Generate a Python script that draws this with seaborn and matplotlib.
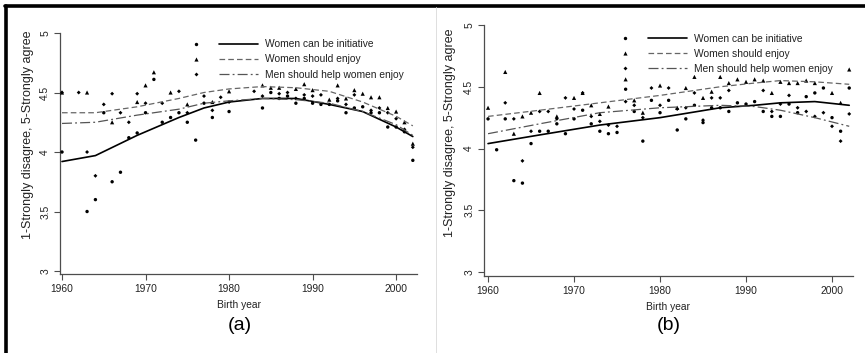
import numpy as np
import matplotlib.pyplot as plt
import seaborn as sns
from matplotlib.lines import Line2D
from matplotlib.legend_handler import HandlerTuple

nan = np.nan
years = list(range(1960, 2003))

# panel (a) scatter: one value per birth year (nan = no marker)
a_initiative = [4.00, nan, nan, 3.50, 3.60, 4.33, 3.75, 3.83, 4.12, 4.16,
                4.33, 4.61, 4.25, 4.29, 4.33, 4.25, 4.10, 4.41, 4.29, nan,
                4.34, nan, nan, nan, 4.37, 4.50, 4.45, 4.47, 4.41, 4.45,
                4.41, 4.40, 4.40, 4.43, 4.33, 4.37, 4.38, 4.33, 4.33, 4.21,
                4.21, 4.17, 3.93]
a_enjoy = [4.50, nan, nan, 4.50, nan, nan, 4.25, nan, nan, 4.42,
           4.56, 4.67, nan, 4.50, 4.63, 4.40, nan, nan, 4.42, nan,
           4.51, nan, nan, nan, 4.56, 4.54, 4.54, nan, 4.53, 4.57,
           4.52, nan, 4.44, 4.56, 4.45, 4.52, 4.49, 4.46, 4.46, 4.37,
           4.34, 4.25, 4.07]
a_help = [4.50, nan, 4.50, 4.00, 3.80, 4.40, 4.49, 4.33, 4.25, 4.49,
          4.41, nan, 4.41, nan, 4.51, 4.33, nan, 4.47, 4.35, 4.46,
          4.42, nan, nan, 4.51, 4.47, nan, 4.49, 4.50, 4.45, 4.48,
          4.47, 4.48, nan, 4.45, 4.40, 4.48, nan, 4.35, 4.37, 4.33,
          4.28, 4.19, 4.04]

# panel (b) scatter
b_initiative = [4.24, 3.99, 4.24, 3.74, 3.72, 4.04, 4.14, 4.14, 4.20, 4.12,
                4.24, 4.31, 4.20, 4.14, 4.12, 4.13, 4.48, 4.30, 4.06, 4.39,
                4.29, 4.39, 4.15, 4.24, 4.35, 4.21, 4.33, 4.33, 4.30, 4.37,
                4.36, 4.38, 4.30, 4.26, 4.26, 4.36, 4.29, 4.42, 4.45, 4.49,
                4.25, 4.14, 4.49]
b_enjoy = [4.33, nan, 4.62, 4.12, 4.26, 4.29, 4.45, nan, 4.26, nan,
           4.41, 4.45, 4.35, 4.28, 4.34, nan, 4.56, 4.39, 4.29, nan,
           4.51, nan, 4.33, 4.49, 4.58, 4.41, 4.46, 4.58, 4.53, 4.56,
           4.54, 4.56, 4.55, 4.45, 4.54, 4.53, 4.53, 4.55, 4.53, nan,
           4.45, 4.37, 4.64]
b_help = [nan, nan, 4.37, 4.24, 3.90, 4.14, 4.30, 4.30, 4.24, 4.41,
          4.32, 4.45, 4.26, 4.22, 4.19, 4.18, 4.38, 4.35, 4.25, 4.49,
          4.35, 4.49, 4.32, 4.33, 4.45, 4.23, 4.41, 4.41, 4.47, nan,
          nan, nan, 4.47, 4.30, 4.36, 4.43, 4.33, 4.30, 4.26, 4.29,
          4.18, 4.06, 4.28]

# fitted curves
a_fit_years = [1960, 1964, 1969, 1974, 1977, 1980, 1984, 1988, 1992, 1996, 2000, 2002]
a_fit_initiative = [3.92, 3.97, 4.14, 4.29, 4.37, 4.42, 4.45, 4.45, 4.40, 4.34, 4.21, 4.13]
a_fit_enjoy = [4.33, 4.33, 4.38, 4.45, 4.50, 4.53, 4.55, 4.54, 4.51, 4.42, 4.30, 4.22]
a_fit_help = [4.24, 4.25, 4.31, 4.36, 4.41, 4.43, 4.45, 4.44, 4.41, 4.34, 4.23, 4.14]

b_fit_years = [1960, 1966, 1973, 1980, 1987, 1991, 1994, 1998, 2002]
b_fit_initiative = [4.04, 4.11, 4.19, 4.25, 4.33, 4.35, 4.37, 4.38, 4.35]
b_fit_enjoy = [4.26, 4.31, 4.37, 4.43, 4.50, 4.53, 4.55, 4.54, 4.52]
b_fit_help = [4.12, 4.20, 4.29, 4.33, 4.35, 4.34, 4.31, 4.25, 4.18]

labels = ["Women can be initiative", "Women should enjoy", "Men should help women enjoy"]
y_ticks = [3, 3.5, 4, 4.5, 5]
y_ticklabels = ["3", "3.5", "4", "4.5", "5"]
x_ticks = [1960, 1970, 1980, 1990, 2000]

sns.set_style("ticks")
plt.rcParams['font.family'] = ['Liberation Sans', 'DejaVu Sans']
FS = 7.4
AXC = '#4d4d4d'

markers = [("o", 6), ("^", 9), ("D", 4)]
styles = [dict(color='black', lw=1.2, ls='-'),
          dict(color='#666666', lw=0.9, ls=(0, (4.5, 2.5))),
          dict(color='#555555', lw=0.9, ls=(0, (8, 2.5, 1.5, 2.5)))]


def draw_panel(ax, pts, fit_x, fits, xlim, ylim, leg_anchor, ylab_y, xlab_y):
    for vals, (m, s) in zip(pts, markers):
        sns.scatterplot(x=years, y=vals, marker=m, s=s, color='black',
                        edgecolor='none', linewidth=0, ax=ax, zorder=3)
    for vals, st in zip(fits, styles):
        sns.lineplot(x=fit_x, y=vals, ax=ax, color=st['color'], lw=st['lw'],
                     linestyle=st['ls'], zorder=4)
    ax.set_xlim(*xlim)
    ax.set_ylim(*ylim)
    ax.set_yticks(y_ticks)
    ax.set_yticklabels(y_ticklabels)
    ax.set_xticks(x_ticks)
    sns.despine(ax=ax)
    for sp in ("left", "bottom"):
        ax.spines[sp].set_color(AXC)
        ax.spines[sp].set_linewidth(0.9)
    ax.tick_params(direction='out', length=4, width=0.8, color=AXC,
                   labelsize=FS, pad=3, labelcolor='#222222')
    ax.tick_params(axis='y', labelrotation=90)
    for t in ax.get_yticklabels():
        t.set_va('center')
    ax.set_ylabel("1-Strongly disagree, 5-Strongly agree", fontsize=9.0, color='#222222')
    ax.yaxis.set_label_coords(ylab_y[0], ylab_y[1])
    ax.set_xlabel("Birth year", fontsize=FS, color='#222222')
    ax.xaxis.set_label_coords(0.5, xlab_y)

    handles = []
    for (m, s), st in zip(markers, styles):
        mk = Line2D([], [], marker=m, ls='none', color='black',
                    markersize=np.sqrt(s), markeredgewidth=0)
        ln = Line2D([], [], color=st['color'], lw=st['lw'], linestyle=st['ls'])
        handles.append((mk, ln))
    leg = ax.legend(handles, labels, handler_map={tuple: HandlerTuple(ndivide=None, pad=0.34)},
                    loc='upper left', bbox_to_anchor=leg_anchor, fontsize=FS,
                    handlelength=7.9, handletextpad=0.68, labelspacing=0.5,
                    borderpad=0.1, borderaxespad=0, numpoints=1,
                    frameon=True, fancybox=False, framealpha=1)
    leg.get_frame().set_facecolor('white')
    leg.get_frame().set_edgecolor('none')
    leg.set_zorder(10)
    for t in leg.get_texts():
        t.set_color('#222222')


W, H = 865, 353
fig = plt.figure(figsize=(W / 100, H / 100), dpi=100)

ax_a = fig.add_axes([60 / W, 1 - 274 / H, 357 / W, 241 / H])
ax_b = fig.add_axes([484 / W, 1 - 276 / H, 369 / W, 251 / H])

draw_panel(ax_a, [a_initiative, a_enjoy, a_help], a_fit_years,
           [a_fit_initiative, a_fit_enjoy, a_fit_help],
           (1959.76, 2002.5), (2.975, 5.0), (0.3235, 0.978),
           (-0.0728, 0.577), -0.108)
draw_panel(ax_b, [b_initiative, b_enjoy, b_help], b_fit_years,
           [b_fit_initiative, b_fit_enjoy, b_fit_help],
           (1959.53, 2002.44), (2.968, 5.0), (0.3266, 0.97),
           (-0.0759, 0.57), -0.1036)

fig.text(240 / W, 1 - 325 / H, "(a)", fontsize=14, ha='center', va='center', color='black')
fig.text(669 / W, 1 - 325 / H, "(b)", fontsize=14, ha='center', va='center', color='black')

# outer frame pieces (thick top and left, faint divider)
fig.add_artist(Line2D([4.5 / W, 1], [1 - 6 / H, 1 - 6 / H], color='black', lw=2.6))
fig.add_artist(Line2D([5.5 / W, 5.5 / W], [0, 1 - 6 / H], color='black', lw=2.6))
fig.add_artist(Line2D([436 / W, 436 / W], [0, 1 - 7 / H], color='#d9d9d9', lw=0.6))

fig.savefig("out.png", dpi=100)
